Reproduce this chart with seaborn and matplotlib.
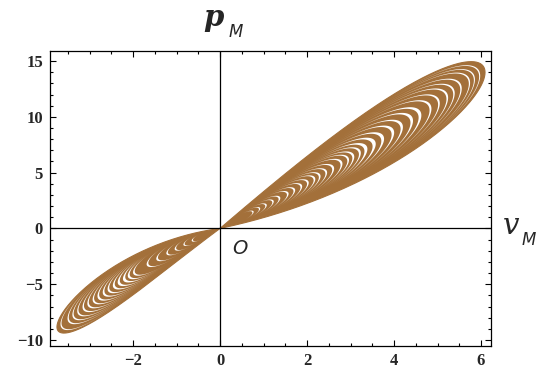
import numpy as np
import pandas as pd
import matplotlib
matplotlib.use("Agg")
import matplotlib.pyplot as plt
from matplotlib.ticker import MultipleLocator
import seaborn as sns

# outer loop of each lobe: far end v, centre line p = v*(a + b*|v|), half width (px)
upper_end_v = 6.05
upper_a, upper_b = 1.92, 0.08
upper_halfwidth = 37.5
lower_end_v = -3.72
lower_a, lower_b = 1.58, 0.24
lower_halfwidth = 22.5

# white gaps between the loops: far end (v) of each gap and its size (v)
upper_gap_v = [5.94, 5.82, 5.71, 5.52, 5.36, 5.21, 5.02, 4.83, 4.6, 4.41, 4.18,
               3.98, 3.75, 3.56, 3.37, 3.22, 3.07, 2.95, 2.8, 2.61, 2.45, 2.3,
               2.18, 2.03, 1.88, 1.72, 1.57, 1.38, 1.23, 1.07, 0.92, 0.77]
upper_gap_size = [0.025, 0.025, 0.03, 0.035, 0.035, 0.04, 0.04, 0.045, 0.065, 0.06,
                  0.055, 0.06, 0.065, 0.075, 0.07, 0.045, 0.045, 0.04, 0.045, 0.045,
                  0.04, 0.04, 0.04, 0.04, 0.04, 0.04, 0.04, 0.04, 0.035, 0.035,
                  0.03, 0.03]
lower_gap_v = [-3.64, -3.48, -3.37, -3.26, -3.14, -3.03, -2.91, -2.8, -2.68, -2.57,
               -2.45, -2.34, -2.22, -2.11, -1.99, -1.68, -1.46, -1.23, -1.04, -0.84,
               -0.65]
lower_gap_size = [0.025, 0.03, 0.03, 0.03, 0.035, 0.035, 0.035, 0.04, 0.04, 0.04,
                  0.045, 0.05, 0.055, 0.045, 0.04, 0.04, 0.04, 0.035, 0.035, 0.03,
                  0.03]

xlim = (-3.91, 6.23)
ylim = (-10.54, 15.9)
x_ticks = [-2, 0, 2, 4, 6]
y_ticks = [-10, -5, 0, 5, 10, 15]
brown = "#a3703a"

W, H = 537, 374
ax_box = [50 / W, 1 - 346 / H, 441 / W, 295 / H]
sx = 441 / (xlim[1] - xlim[0])   # px per unit
sy = 295 / (ylim[1] - ylim[0])


def loop_points(end_v, V, a, b, halfwidth, t, shrink=1.05):
    k = end_v / V
    u = (1 - np.cos(t)) / 2
    v = end_v * u
    X = v * sx
    Y = v * (a + b * np.abs(v)) * sy
    dY = (a + 2 * b * np.abs(v)) * sy
    norm = np.hypot(sx, dY)
    off = np.sign(V) * halfwidth * k ** shrink * np.sin(t) * np.sqrt(u)
    X = X - dY / norm * off
    Y = Y + sx / norm * off
    return X / sx, Y / sy


def crescent(end_v, size, V, a, b, halfwidth, span=1.35, n=90):
    t = np.linspace(np.pi - span, np.pi + span, n)
    vo, po = loop_points(end_v, V, a, b, halfwidth, t)
    taper = (1 + np.cos(np.pi * (t - np.pi) / span)) / 2
    dv = -np.sign(V) * size * taper
    dp = dv * (a + 2 * b * abs(end_v))
    vi, pi = vo + dv, po + dp
    return np.r_[vo, vi[::-1]], np.r_[po, pi[::-1]]


lobes = [
    (upper_end_v, upper_a, upper_b, upper_halfwidth, upper_gap_v, upper_gap_size, "u"),
    (lower_end_v, lower_a, lower_b, lower_halfwidth, lower_gap_v, lower_gap_size, "l"),
]

sns.set_style("ticks")
fig = plt.figure(figsize=(W / 100, H / 100), dpi=100)
ax = fig.add_axes(ax_box)

rows = []
t_full = np.linspace(0, 2 * np.pi, 400)
for V, a, b, hw, gaps, sizes, tag in lobes:
    v, p = loop_points(V, V, a, b, hw, t_full)
    ax.fill(v, p, color=brown, lw=0, zorder=1)
    rows.append(pd.DataFrame({"v": v, "p": p, "loop": f"{tag}outer"}))
    for g, d in zip(gaps, sizes):
        cv, cp = crescent(g, d, V, a, b, hw)
        ax.fill(cv, cp, color="white", lw=0, zorder=2)
df = pd.concat(rows, ignore_index=True)

sns.lineplot(data=df, x="v", y="p", units="loop", estimator=None, sort=False,
             color=brown, lw=0.8, legend=False, ax=ax, zorder=3)

ax.axhline(0, color="black", lw=0.9, zorder=5)
ax.axvline(0, color="black", lw=0.9, zorder=5)

ax.set_xlim(*xlim)
ax.set_ylim(*ylim)
ax.set_xticks(x_ticks)
ax.set_yticks(y_ticks)
ax.xaxis.set_minor_locator(MultipleLocator(0.5))
ax.yaxis.set_minor_locator(MultipleLocator(1))
ax.tick_params(which="both", direction="in", top=True, right=True, width=0.8,
               color="black")
ax.tick_params(which="major", length=4.5, pad=5)
ax.tick_params(which="minor", length=2.5)
for lab in ax.get_xticklabels() + ax.get_yticklabels():
    lab.set_fontfamily("Liberation Serif")
    lab.set_fontweight("bold")
    lab.set_fontsize(12)
for sp in ax.spines.values():
    sp.set_linewidth(0.9)
    sp.set_color("black")
ax.set_xlabel("")
ax.set_ylabel("")

# axis names and origin mark
fig.text(203 / W, 1 - 26 / H, "p", fontsize=21, fontweight="bold", style="italic",
         family="DejaVu Serif", ha="left", va="baseline")
fig.text(229 / W, 1 - 37 / H, "M", fontsize=12, style="italic",
         family="DejaVu Sans", ha="left", va="baseline")
fig.text(503 / W, 1 - 234 / H, "v", fontsize=21, style="italic",
         family="DejaVu Serif", ha="left", va="baseline")
fig.text(522 / W, 1 - 245 / H, "M", fontsize=12, style="italic",
         family="DejaVu Sans", ha="left", va="baseline")
fig.text(232 / W, 1 - 254 / H, "O", fontsize=14, style="italic",
         family="DejaVu Sans", ha="left", va="baseline")

fig.savefig("out.png", dpi=100)
